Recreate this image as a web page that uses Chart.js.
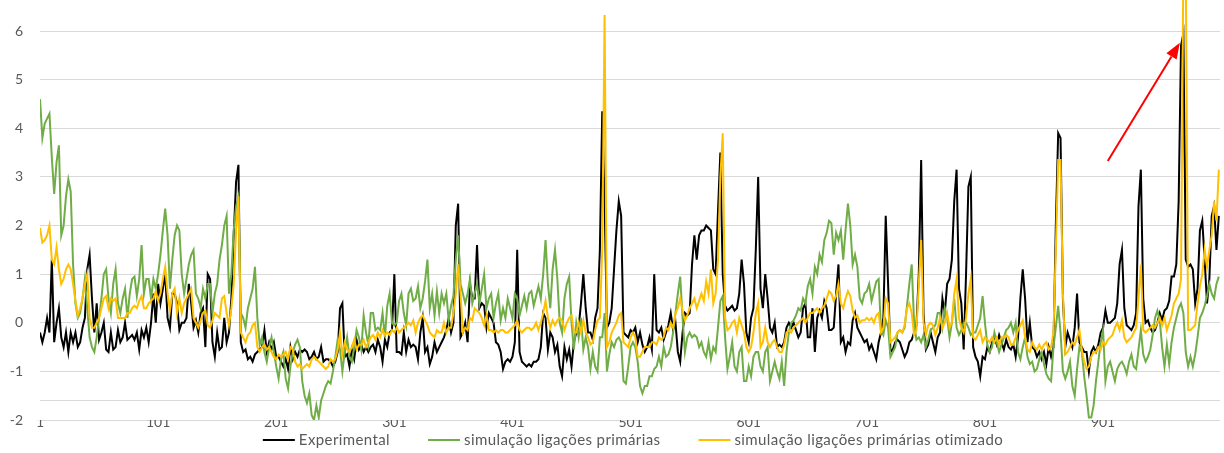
<!DOCTYPE html>
<html>
<head>
<meta charset="utf-8">
<title>Experimental vs simulação</title>
<script src="https://cdn.jsdelivr.net/npm/chart.js@4.4.1/dist/chart.umd.min.js"></script>
<style>
  html, body { margin: 0; padding: 0; background: #ffffff; }
  canvas { display: block; }
</style>
</head>
<body>
<canvas id="chart" width="1224" height="453"></canvas>
<script>
// Readings are kept every second day, starting on day 1.
const FIRST_DAY = 1;
const SAMPLE_STEP = 2;
const LAST_DAY = 1000;

const X_TICKS = [1, 101, 201, 301, 401, 501, 601, 701, 801, 901];
const Y_TICKS = [-2, -1, 0, 1, 2, 3, 4, 5, 6];

const SERIES_NAMES = [
  'Experimental',
  'simulação ligações primárias',
  'simulação ligações primárias otimizado'
];

const experimental = [
  -0.2,-0.4,-0.2,0.1,-0.2,1.3,-0.4,0.0,0.3,-0.3,
  -0.5,-0.2,-0.6,-0.2,-0.4,-0.2,-0.5,-0.4,-0.1,0.1,
  1.1,1.4,0.5,-0.2,0.4,-0.35,-0.2,0.0,-0.55,-0.6,
  -0.2,-0.55,-0.5,-0.15,-0.4,-0.3,0.0,-0.35,-0.3,-0.25,
  -0.35,-0.2,-0.55,-0.15,-0.3,-0.1,-0.4,0.0,0.6,0.0,
  0.8,0.4,0.7,1.0,0.1,-0.1,0.6,0.6,0.4,-0.15,
  0.0,0.0,0.1,0.8,0.4,-0.1,0.05,-0.2,0.2,0.3,
  -0.5,1.0,0.9,-0.4,-0.7,-0.2,-0.55,-0.5,0.1,-0.4,
  -0.2,0.5,1.8,2.9,3.25,-0.4,-0.6,-0.55,-0.75,-0.7,
  -0.8,-0.65,-0.6,-0.55,-0.5,-0.15,-0.6,-0.4,-0.55,-0.4,
  -0.7,-0.7,-0.8,-0.9,-0.75,-0.95,-0.5,-0.75,-0.6,-0.7,
  -0.55,-0.6,-0.55,-0.6,-0.75,-0.7,-0.6,-0.75,-0.7,-0.5,
  -0.8,-0.75,-0.75,-0.8,-0.9,-0.8,-0.6,0.3,0.4,-0.7,
  -0.65,-0.9,-0.55,-0.75,-0.35,-0.55,-0.45,-0.6,-0.5,-0.6,
  -0.5,-0.45,-0.6,-0.35,-0.5,-0.8,-0.35,-0.5,-0.2,-0.15,
  1.0,-0.6,-0.6,-0.65,-0.2,-0.6,-0.35,-0.5,-0.45,-0.5,
  -0.75,-0.2,0.1,-0.6,-0.5,-0.85,-0.7,-0.4,-0.6,-0.5,
  -0.4,-0.3,-0.15,0.1,-0.2,0.0,2.0,2.45,-0.3,-0.2,
  0.0,-0.4,0.8,0.5,0.5,1.6,0.3,0.4,0.35,-0.1,
  0.2,0.1,0.0,-0.4,-0.45,-0.6,-0.95,-0.8,-0.75,-0.8,
  -0.7,-0.4,1.5,-0.6,-0.8,-0.85,-0.9,-0.85,-0.9,-0.8,
  -0.8,-0.75,-0.5,0.2,0.1,-0.55,-0.2,-0.3,-0.6,-0.45,
  -0.9,-1.1,-0.5,-0.75,-0.55,-0.9,-0.4,-0.2,-0.1,0.4,
  1.0,0.3,-0.2,-0.2,-0.35,0.1,0.3,1.5,4.35,2.5,
  -0.1,0.0,0.3,1.1,1.9,2.5,2.2,-0.2,-0.25,-0.3,
  -0.15,-0.2,-0.1,-0.4,-0.2,-0.45,-0.6,-0.5,-0.3,-0.55,
  1.0,-0.15,-0.2,-0.1,-0.35,-0.2,-0.05,0.2,-0.15,0.0,
  -0.6,-0.8,-0.2,0.2,0.15,0.2,1.2,1.8,1.3,1.8,
  1.9,1.9,2.0,1.95,1.9,1.1,1.0,2.3,3.5,1.0,
  0.35,0.25,0.3,0.35,0.25,0.3,0.6,1.3,0.8,-0.2,
  -0.4,0.1,0.3,1.5,3.0,0.7,0.3,1.0,0.5,-0.1,
  -0.2,0.0,-0.5,-0.45,-0.5,-0.4,-0.1,0.0,-0.1,0.0,
  -0.15,-0.3,-0.2,0.3,0.4,-0.3,-0.3,0.3,-0.6,0.1,
  0.25,0.1,0.45,0.3,-0.15,-0.15,-0.1,0.6,1.2,-0.4,
  -0.3,-0.6,-0.4,-0.45,0.05,0.2,-0.1,-0.2,-0.3,-0.4,
  -0.35,-0.55,-0.45,-0.6,-0.75,-0.4,-0.2,0.1,2.2,0.8,
  -0.6,-0.55,-0.4,-0.35,-0.4,-0.55,-0.7,-0.6,-0.4,-0.35,
  -0.2,-0.05,1.0,3.35,0.2,-0.55,-0.45,-0.2,-0.4,-0.6,
  -0.3,-0.2,0.5,0.2,0.8,0.9,1.3,2.5,3.15,0.7,
  0.4,-0.55,1.0,2.8,3.0,-0.5,-0.7,-0.8,-1.1,-0.7,
  -0.75,-0.5,-0.6,-0.4,-0.3,-0.45,-0.25,-0.4,-0.55,-0.35,
  -0.5,-0.55,-0.45,-0.7,-0.3,0.5,1.1,0.5,-0.4,0.0,
  -0.5,-0.55,-0.7,-0.6,-0.75,-0.6,-0.85,-0.5,-0.7,-0.5,
  2.0,3.9,3.8,0.5,-0.5,-0.2,-0.35,-0.5,-0.1,0.6,
  -0.4,-0.5,-0.6,-0.6,-1.0,-0.6,-0.5,-0.6,-0.45,-0.2,
  -0.1,0.25,0.0,0.0,0.05,0.1,0.4,1.2,1.5,0.3,
  -0.05,-0.1,-0.15,-0.05,0.2,2.4,3.15,0.5,0.0,0.05,
  -0.1,-0.2,-0.15,0.0,0.2,0.05,0.25,0.3,0.45,0.95,
  0.95,1.2,2.5,5.7,5.95,1.3,1.15,1.2,1.1,0.4,
  0.7,1.9,2.1,1.3,0.4,0.9,2.2,2.4,1.5,2.2
];

const simPrimarias = [
  4.6,3.8,4.1,4.2,4.3,3.4,2.65,3.3,3.65,1.8,
  2.0,2.6,2.95,2.7,1.2,0.4,0.1,0.2,0.5,0.9,
  0.3,-0.3,-0.5,-0.6,-0.3,0.1,0.5,1.0,1.1,0.5,
  0.2,0.8,1.1,0.4,0.2,0.5,0.7,0.1,0.6,0.9,
  0.95,0.55,0.9,1.6,0.6,0.9,0.9,0.5,0.9,0.7,
  1.0,1.4,1.9,2.35,1.8,0.7,1.3,1.8,2.0,1.9,
  1.0,0.6,0.9,1.2,1.4,1.5,0.6,0.5,0.3,0.7,
  0.5,0.8,0.8,0.2,0.6,0.8,1.3,1.6,2.0,2.2,
  0.6,1.0,1.9,2.4,2.6,0.2,0.1,-0.1,0.3,0.5,
  0.7,1.15,0.1,-0.45,-0.3,-0.6,-0.8,-0.5,-0.3,-0.6,
  -0.9,-1.15,-0.75,-0.6,-1.15,-1.35,-0.9,-0.6,-0.45,-0.35,
  -0.5,-1.2,-1.5,-1.65,-1.45,-1.9,-2.0,-1.7,-1.95,-1.6,
  -1.45,-1.3,-1.2,-1.25,-1.0,-0.7,-0.35,-0.55,-1.0,-0.6,
  -0.3,-0.7,-0.8,-0.5,-0.15,-0.3,-0.55,0.15,-0.2,-0.45,
  0.2,0.2,-0.15,-0.1,-0.15,0.2,-0.3,0.35,0.6,0.0,
  -0.05,0.0,0.45,0.6,0.2,-0.05,0.6,0.7,0.45,0.5,
  0.75,0.3,0.5,0.85,1.3,0.3,0.6,0.15,0.65,0.2,
  0.6,0.4,0.6,0.05,0.35,0.55,1.3,1.8,0.8,0.6,
  0.4,0.6,0.9,0.4,0.6,0.8,0.4,0.7,1.0,0.3,
  0.5,0.6,0.1,0.4,0.6,0.05,0.3,0.1,0.5,0.3,
  0.1,0.6,0.5,0.15,0.35,0.55,0.3,0.6,0.65,0.35,
  0.55,0.75,0.5,1.0,1.7,0.8,0.3,1.1,1.5,0.9,
  0.0,-0.2,0.5,0.8,0.95,0.0,-0.55,0.0,-0.3,0.1,
  -0.55,-0.3,-0.5,-0.95,-0.6,-0.9,-1.0,-0.3,-0.3,0.2,
  -1.0,-0.65,-0.4,-0.5,-0.35,-0.3,-0.4,-1.2,-1.25,-0.9,
  -0.5,-0.4,-0.5,-0.8,-1.3,-1.45,-1.3,-1.3,-1.1,-1.1,
  -0.95,-0.9,-0.7,-0.9,-0.5,-0.7,-0.65,-0.5,-0.2,0.2,
  0.6,0.95,0.1,-0.6,-0.3,-0.2,-0.3,-0.25,-0.3,-0.5,
  -0.4,-0.6,-0.7,-0.4,-0.75,-0.5,-0.6,-0.1,0.45,0.55,
  -0.3,-0.95,-0.7,-0.4,-0.9,-1.0,-0.6,-0.5,-1.2,-1.2,
  -0.9,-1.1,-0.7,-0.6,-0.6,-0.9,-1.0,-0.6,-0.5,-1.2,
  -1.0,-0.8,-1.0,-1.15,-0.8,-1.3,-0.6,-0.2,0.0,0.05,
  0.15,0.3,0.25,0.5,0.4,0.75,0.9,0.6,1.15,1.0,
  1.4,1.25,1.7,1.85,2.1,2.05,1.4,1.85,1.7,1.9,
  1.3,1.9,2.45,2.0,1.2,1.4,1.15,0.5,0.4,0.6,
  0.65,0.8,0.45,0.65,0.85,0.9,-0.15,-0.25,0.05,-0.1,
  -0.7,-0.6,-0.5,-0.2,-0.15,-0.2,-0.1,0.35,0.8,1.2,
  0.0,-0.35,-0.3,-0.4,-0.25,-0.5,-0.35,-0.15,-0.1,-0.05,
  0.2,0.2,-0.1,0.3,0.1,-0.3,0.0,0.5,-0.1,-0.25,
  -0.15,0.0,0.0,-0.1,-0.25,-0.2,-0.2,-0.05,0.1,0.55,
  0.0,-0.45,-0.6,-0.5,-0.2,-0.4,-0.6,-0.45,-0.3,-0.15,
  -0.1,0.0,-0.2,0.0,-0.6,-0.75,-0.5,-0.3,-0.7,-0.85,
  -0.8,-1.0,-0.95,-0.75,-0.6,-0.85,-1.05,-1.15,-1.2,-0.5,
  -0.1,0.35,-0.2,-1.0,-1.15,-1.0,-0.8,-1.3,-1.5,-0.95,
  -0.5,-0.6,-1.1,-1.5,-1.95,-1.95,-1.7,-1.2,-0.8,-0.4,
  -0.15,-1.2,-0.9,-0.8,-1.0,-1.2,-0.95,-0.85,-0.8,-0.9,
  -1.05,-0.8,-0.65,-0.9,-0.95,-0.55,-0.15,-0.65,-0.8,-0.7,
  -0.55,-0.25,0.1,0.25,0.05,-0.5,-0.9,-0.45,-0.85,-0.4,
  -0.1,0.1,0.3,0.4,0.2,-0.6,-0.9,-0.7,-0.9,-0.65,
  -0.3,0.1,0.2,0.35,0.55,0.8,0.6,0.5,0.8,0.95
];

const simOtimizado = [
  1.95,1.65,1.7,1.8,2.0,1.3,1.2,1.55,1.1,0.8,
  0.9,1.1,1.2,1.1,0.8,0.45,0.15,0.3,0.5,0.8,
  1.0,0.1,-0.1,-0.1,0.0,0.1,0.3,0.5,0.55,0.3,
  0.5,0.45,0.5,0.1,0.1,0.1,0.1,0.2,0.2,0.3,
  0.35,0.3,0.45,0.55,0.3,0.3,0.4,0.45,0.5,0.65,
  0.45,0.6,0.9,1.15,0.6,0.25,0.6,0.7,0.2,0.5,
  0.2,0.4,0.5,0.6,0.7,0.1,0.0,-0.1,0.05,0.2,
  0.25,-0.05,-0.1,0.05,0.2,0.15,0.1,0.5,0.55,0.2,
  -0.05,0.3,0.8,1.9,2.6,-0.2,-0.3,-0.4,-0.25,-0.2,
  -0.05,0.0,-0.5,-0.6,-0.5,-0.45,-0.55,-0.5,-0.6,-0.7,
  -0.75,-0.65,-0.7,-0.65,-0.6,-0.75,-0.5,-0.55,-0.8,-0.9,
  -0.85,-0.95,-0.9,-0.85,-0.9,-0.75,-0.7,-0.75,-0.8,-0.85,
  -0.9,-0.95,-0.9,-0.75,-0.8,-0.75,-0.55,-0.2,-0.65,-0.4,
  -0.55,-0.6,-0.5,-0.35,-0.55,-0.45,-0.45,-0.35,-0.5,-0.4,
  -0.3,-0.25,-0.35,-0.2,-0.3,-0.15,-0.25,-0.2,-0.25,-0.15,
  -0.2,-0.1,-0.2,-0.15,-0.1,-0.05,0.0,-0.05,0.05,-0.2,
  0.0,0.1,0.15,0.05,-0.05,-0.2,-0.25,-0.3,-0.15,-0.2,
  -0.2,0.0,-0.2,-0.1,-0.1,0.2,0.6,1.2,0.6,-0.2,
  -0.1,-0.15,0.1,0.05,0.3,0.25,0.2,0.1,-0.05,0.15,
  -0.15,-0.15,-0.2,-0.15,-0.2,-0.15,-0.15,-0.2,-0.2,-0.15,
  -0.1,-0.05,0.05,-0.15,-0.2,-0.15,-0.1,-0.1,-0.15,-0.1,
  0.0,-0.15,0.0,0.2,0.45,0.1,-0.1,0.05,-0.05,0.05,
  0.1,0.05,-0.15,0.0,0.1,0.15,-0.2,-0.2,0.0,-0.2,
  0.05,-0.2,-0.3,-0.45,-0.4,-0.15,0.05,0.1,1.5,6.33,
  -0.5,-0.4,-0.2,-0.1,0.0,0.15,0.2,-0.4,-0.45,-0.5,
  -0.3,-0.2,-0.3,-0.7,-0.7,-0.6,-0.5,-0.5,-0.5,-0.4,
  -0.4,-0.45,-0.3,-0.35,-0.3,-0.1,-0.15,0.0,-0.1,0.2,
  0.3,0.5,0.25,0.05,0.15,0.3,0.4,0.5,0.3,0.45,
  0.6,0.45,0.85,0.6,1.1,0.4,0.6,1.3,3.0,3.9,
  0.1,-0.15,-0.1,0.0,0.05,-0.2,0.1,-0.05,-0.2,-0.5,
  -0.6,-0.5,-0.2,0.2,0.4,-0.5,-0.4,-0.1,-0.4,-0.5,
  -0.4,-0.35,-0.5,-0.6,-0.6,-0.45,-0.2,-0.15,-0.2,-0.1,
  -0.05,0.0,0.05,0.1,0.0,0.1,0.2,0.2,0.25,0.3,
  0.2,0.3,0.35,0.5,0.65,0.6,0.45,0.55,0.8,0.4,
  0.3,0.5,0.65,0.55,0.25,0.1,0.15,0.0,0.05,0.05,
  0.1,0.05,0.1,0.0,0.15,0.2,-0.2,-0.1,0.5,0.4,
  -0.4,-0.35,-0.3,-0.2,-0.15,-0.2,-0.05,0.3,0.4,0.2,
  -0.25,-0.15,0.8,1.7,0.0,-0.25,-0.05,0.0,-0.05,-0.25,
  -0.1,0.1,-0.1,0.0,0.2,-0.1,0.0,0.6,0.9,0.1,
  -0.1,-0.2,0.1,0.6,0.9,-0.3,-0.35,-0.25,-0.15,-0.4,
  -0.3,-0.35,-0.4,-0.3,-0.4,-0.3,-0.45,-0.3,-0.3,-0.25,
  -0.3,-0.45,-0.45,-0.3,-0.15,-0.05,0.05,-0.3,-0.55,-0.6,
  -0.4,-0.5,-0.55,-0.45,-0.55,-0.45,-0.4,-0.55,-0.5,-0.2,
  1.5,3.35,3.35,0.6,-0.65,-0.6,-0.5,-0.4,-0.45,-0.3,
  -0.15,-0.55,-0.8,-0.95,-0.9,-0.7,-0.6,-0.6,-0.5,-0.55,
  -0.4,-0.45,-0.35,-0.3,-0.25,-0.1,0.0,-0.15,0.05,-0.3,
  -0.4,-0.35,-0.3,-0.2,-0.1,0.5,1.2,-0.15,-0.2,-0.15,
  -0.1,-0.05,-0.1,0.0,0.1,-0.05,0.1,-0.15,0.0,0.15,
  0.4,0.5,0.6,0.9,7.4,7.4,-0.15,-0.15,-0.1,-0.05,
  0.4,0.75,1.0,1.5,1.15,1.5,1.8,2.5,2.1,3.15
];

// Red call-out arrow, given in chart units (day, value).
const ARROW_FROM = { x: 905, y: 3.33 };
const ARROW_TO = { x: 966, y: 5.76 };

// Value at which the horizontal axis line crosses the value axis.
const AXIS_CROSS = -1.59;

const Y_MIN = -2;
const Y_MAX = 6.64;

const TEXT_COLOR = '#595959';
const GRID_COLOR = '#D9D9D9';
const FONT_FAMILY = 'Lato, "Open Sans", sans-serif';
const FONT_SIZE = 14;
const LEGEND_FONT_SIZE = 15;

function toPoints(values) {
  return values.map((v, i) => ({ x: FIRST_DAY + i * SAMPLE_STEP, y: v }));
}

const axisLinePlugin = {
  id: 'axisLine',
  beforeDatasetsDraw(chart) {
    const { ctx, chartArea, scales } = chart;
    const y = Math.round(scales.y.getPixelForValue(AXIS_CROSS)) + 0.5;
    ctx.save();
    ctx.strokeStyle = GRID_COLOR;
    ctx.lineWidth = 1;
    ctx.beginPath();
    ctx.moveTo(chartArea.left, y);
    ctx.lineTo(chartArea.right, y);
    ctx.stroke();
    ctx.restore();
  }
};

const arrowPlugin = {
  id: 'calloutArrow',
  afterDatasetsDraw(chart) {
    const { ctx, scales } = chart;
    const x1 = scales.x.getPixelForValue(ARROW_FROM.x);
    const y1 = scales.y.getPixelForValue(ARROW_FROM.y);
    const x2 = scales.x.getPixelForValue(ARROW_TO.x);
    const y2 = scales.y.getPixelForValue(ARROW_TO.y);
    const ang = Math.atan2(y2 - y1, x2 - x1);
    const headLen = 16, headHalf = 6;
    const bx = x2 - headLen * Math.cos(ang);
    const by = y2 - headLen * Math.sin(ang);
    ctx.save();
    ctx.strokeStyle = '#FF0000';
    ctx.fillStyle = '#FF0000';
    ctx.lineWidth = 2;
    ctx.beginPath();
    ctx.moveTo(x1, y1);
    ctx.lineTo(bx, by);
    ctx.stroke();
    ctx.beginPath();
    ctx.moveTo(x2, y2);
    ctx.lineTo(bx + headHalf * Math.sin(ang), by - headHalf * Math.cos(ang));
    ctx.lineTo(bx - headHalf * Math.sin(ang), by + headHalf * Math.cos(ang));
    ctx.closePath();
    ctx.fill();
    ctx.restore();
  }
};

const bottomLegendPlugin = {
  id: 'bottomLegend',
  afterDraw(chart) {
    const { ctx, chartArea } = chart;
    const sampleLen = 32, textGap = 4, itemGap = 38;
    ctx.save();
    ctx.font = LEGEND_FONT_SIZE + 'px ' + FONT_FAMILY;
    ctx.letterSpacing = '0.4px';
    const items = chart.data.datasets.map(d => ({
      text: d.label,
      color: d.borderColor,
      w: ctx.measureText(d.label).width
    }));
    const total = items.reduce((s, it) => s + sampleLen + textGap + it.w, 0) + itemGap * (items.length - 1);
    let x = (chartArea.left + chartArea.right) / 2 - total / 2 + 3;
    const y = chartArea.bottom + 20;
    ctx.textBaseline = 'middle';
    ctx.textAlign = 'left';
    items.forEach(it => {
      ctx.strokeStyle = it.color;
      ctx.lineWidth = 2;
      ctx.beginPath();
      ctx.moveTo(x, y);
      ctx.lineTo(x + sampleLen, y);
      ctx.stroke();
      ctx.fillStyle = TEXT_COLOR;
      ctx.fillText(it.text, x + sampleLen + textGap, y);
      x += sampleLen + textGap + it.w + itemGap;
    });
    ctx.restore();
  }
};

const tickFont = { family: FONT_FAMILY, size: FONT_SIZE };

new Chart(document.getElementById('chart'), {
  type: 'line',
  data: {
    datasets: [
      { label: SERIES_NAMES[0], data: toPoints(experimental), borderColor: '#000000', order: 3 },
      { label: SERIES_NAMES[1], data: toPoints(simPrimarias), borderColor: '#70AD47', order: 2 },
      { label: SERIES_NAMES[2], data: toPoints(simOtimizado), borderColor: '#FFC000', order: 1 }
    ]
  },
  options: {
    responsive: false,
    animation: false,
    events: [],
    layout: { padding: { left: 0, right: 4, top: 0, bottom: 19 } },
    elements: {
      point: { radius: 0 },
      line: { borderWidth: 2, tension: 0, fill: false }
    },
    plugins: {
      legend: { display: false },
      tooltip: { enabled: false }
    },
    scales: {
      x: {
        type: 'linear',
        min: FIRST_DAY,
        max: LAST_DAY,
        afterBuildTicks(scale) { scale.ticks = X_TICKS.map(v => ({ value: v })); },
        afterFit(scale) { scale.height = 14; scale.paddingLeft = 0; scale.paddingRight = 0; },
        grid: { display: false, drawTicks: false },
        border: { display: false },
        ticks: {
          autoSkip: false,
          maxRotation: 0,
          padding: -6,
          color: TEXT_COLOR,
          font: tickFont,
          callback: v => String(v)
        }
      },
      y: {
        type: 'linear',
        min: Y_MIN,
        max: Y_MAX,
        afterBuildTicks(scale) { scale.ticks = Y_TICKS.map(v => ({ value: v })); },
        afterFit(scale) { scale.width = 40; scale.paddingTop = 0; scale.paddingBottom = 0; },
        grid: { color: GRID_COLOR, lineWidth: 1, drawTicks: false },
        border: { display: false },
        ticks: {
          padding: 17,
          color: TEXT_COLOR,
          font: tickFont,
          callback: v => String(v)
        }
      }
    }
  },
  plugins: [axisLinePlugin, arrowPlugin, bottomLegendPlugin]
});
</script>
</body>
</html>
